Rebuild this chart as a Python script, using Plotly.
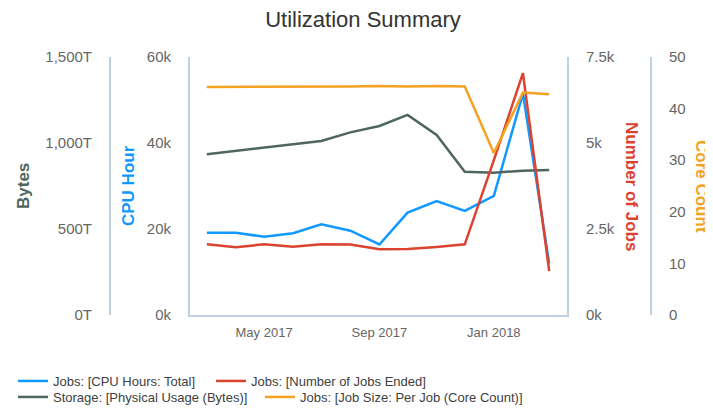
import plotly.graph_objects as go

# ---- data ----
months = ["2017-03-01", "2017-04-01", "2017-05-01", "2017-06-01", "2017-07-01",
          "2017-08-01", "2017-09-01", "2017-10-01", "2017-11-01", "2017-12-01",
          "2018-01-01", "2018-02-01", "2018-03-01"]
cpu_hours = [19100, 19100, 18200, 19000, 21100, 19600, 16400, 23800, 26500, 24200, 27700, 51500, 12000]
jobs_ended = [2055, 1970, 2055, 1985, 2055, 2050, 1910, 1915, 1980, 2055, 4500, 7030, 1280]
storage_tb = [934, 953, 975, 994, 1012, 1062, 1099, 1163, 1047, 833, 827, 839, 843]
core_count = [44.2, 44.2, 44.2, 44.2, 44.3, 44.3, 44.4, 44.3, 44.4, 44.3, 31.4, 43.1, 42.8]

x_tick_vals = ["2017-05-01", "2017-09-01", "2018-01-01"]
x_tick_text = ["May 2017", "Sep 2017", "Jan 2018"]
cpu_tick_vals = [0, 20000, 40000, 60000]
cpu_tick_text = ["0k", "20k", "40k", "60k"]
bytes_tick_vals = [0, 500, 1000, 1500]
bytes_tick_text = ["0T", "500T", "1,000T", "1,500T"]
jobs_tick_vals = [0, 2500, 5000, 7500]
jobs_tick_text = ["0k", "2.5k", "5k", "7.5k"]
core_tick_vals = [0, 10, 20, 30, 40, 50]

# the page body has a default 8px margin: the figure is sized/offset to fill the window
VW, VH, OFF = 713, 414, 8
W, H = VW - OFF, VH - OFF


def px(x):
    return (x - OFF) / W


def py(y):
    return 1 - (y - OFF) / H


FONT = "Liberation Sans, Arial, sans-serif"
AXIS_LINE = "#C0D0E0"
TICK_COLOR = "#666666"
BLUE, RED, GREEN, ORANGE = "#1199FF", "#DB4230", "#4E665D", "#F4A221"
LW = 2.5

fig = go.Figure()
fig.add_trace(go.Scatter(x=months, y=storage_tb, name="Storage: [Physical Usage (Bytes)]",
                         mode="lines", line=dict(color=GREEN, width=LW), yaxis="y2",
                         legend="legend3"))
fig.add_trace(go.Scatter(x=months, y=core_count, name="Jobs: [Job Size: Per Job (Core Count)]",
                         mode="lines", line=dict(color=ORANGE, width=LW), yaxis="y4",
                         legend="legend4"))
fig.add_trace(go.Scatter(x=months, y=cpu_hours, name="Jobs: [CPU Hours: Total]",
                         mode="lines", line=dict(color=BLUE, width=LW), yaxis="y",
                         legend="legend"))
fig.add_trace(go.Scatter(x=months, y=jobs_ended, name="Jobs: [Number of Jobs Ended]",
                         mode="lines", line=dict(color=RED, width=LW), yaxis="y3",
                         legend="legend2"))

common_y = dict(showline=True, linecolor=AXIS_LINE, linewidth=2, showgrid=False,
                zeroline=False, ticks="", tickfont=dict(size=15, color=TICK_COLOR, family=FONT),
                ticklabelstandoff=14, fixedrange=True)


def legend_at(xpix, ypix):
    return dict(x=px(xpix), y=py(ypix), xanchor="left", yanchor="middle", orientation="v",
                font=dict(size=13, color="#404040", family=FONT), bgcolor="rgba(0,0,0,0)",
                tracegroupgap=0, itemwidth=30, borderwidth=0)


fig.update_layout(
    width=W, height=H, autosize=False,
    margin=dict(l=0, r=0, t=0, b=0, autoexpand=False),
    paper_bgcolor="white", plot_bgcolor="white",
    font=dict(family=FONT, color="#333333"),
    title=dict(text="Utilization Summary", x=px(363), xanchor="center", xref="paper",
               y=py(19), yanchor="middle", yref="paper",
               font=dict(size=22, color="#333333", family=FONT)),
    xaxis=dict(domain=[px(190), px(567)], type="date", range=["2017-02-11", "2018-03-20"],
               tickvals=x_tick_vals, ticktext=x_tick_text, showline=True, linecolor=AXIS_LINE,
               linewidth=2, showgrid=False, zeroline=False, ticks="",
               tickfont=dict(size=13, color=TICK_COLOR, family=FONT), ticklabelstandoff=4),
    yaxis=dict(domain=[py(315), py(57)], range=[0, 60000], tickvals=cpu_tick_vals,
               ticktext=cpu_tick_text, anchor="x", side="left", **common_y),
    yaxis2=dict(range=[0, 1500], tickvals=bytes_tick_vals, ticktext=bytes_tick_text,
                overlaying="y", anchor="free", position=px(110), side="left", **common_y),
    yaxis3=dict(range=[0, 7500], tickvals=jobs_tick_vals, ticktext=jobs_tick_text,
                overlaying="y", anchor="x", side="right", **common_y),
    yaxis4=dict(range=[0, 50], tickvals=core_tick_vals, ticktext=[str(v) for v in core_tick_vals],
                overlaying="y", anchor="free", position=px(651), side="right", **common_y),
    legend=legend_at(13, 381),
    legend2=legend_at(211, 381),
    legend3=legend_at(13, 397),
    legend4=legend_at(260, 397),
    showlegend=True,
)

axis_titles = [
    ("Bytes", 23, -90, GREEN),
    ("CPU Hour", 128, -90, BLUE),
    ("Number of Jobs", 632, 90, RED),
    ("Core Count", 702, 90, ORANGE),
]
for text, xpix, ang, col in axis_titles:
    fig.add_annotation(text=text, x=px(xpix), y=py(186), xref="paper", yref="paper",
                       xanchor="center", yanchor="middle", textangle=ang, showarrow=False,
                       font=dict(size=17, color=col, family=FONT, weight="bold"))

fig.write_html("out.html")
